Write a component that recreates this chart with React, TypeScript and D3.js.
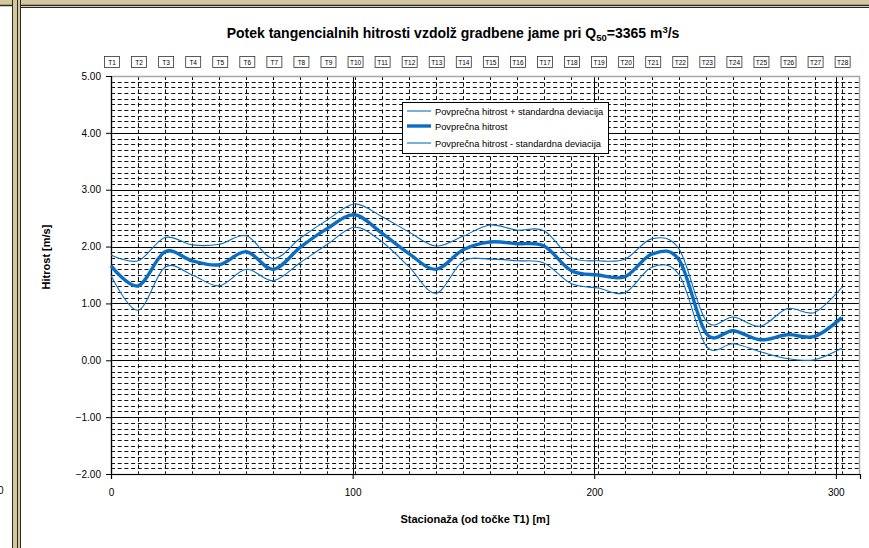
import React, { useEffect, useRef } from "react";
import * as d3 from "d3";

// station labels and their position along the pit [m]
const stations = ["T1", "T2", "T3", "T4", "T5", "T6", "T7", "T8", "T9", "T10", "T11", "T12", "T13", "T14",
  "T15", "T16", "T17", "T18", "T19", "T20", "T21", "T22", "T23", "T24", "T25", "T26", "T27", "T28"];
const stationPos = [0, 11.2, 22.4, 33.6, 44.8, 56, 67.2, 78.4, 89.6, 100.8, 112, 123.2, 134.4, 145.6,
  156.8, 168, 179.2, 190.4, 201.6, 212.8, 224, 235.2, 246.4, 257.6, 268.8, 280, 291.2, 302.4];

// velocities [m/s]
const meanSpeed = [1.66, 1.31, 1.91, 1.75, 1.68, 1.91, 1.6, 1.99, 2.32, 2.56, 2.24, 1.88, 1.6, 1.94,
  2.08, 2.05, 2.01, 1.58, 1.5, 1.47, 1.87, 1.76, 0.47, 0.52, 0.36, 0.45, 0.42, 0.75];
const upperSpeed = [1.85, 1.75, 2.16, 2.03, 2.04, 2.19, 1.79, 2.15, 2.47, 2.75, 2.53, 2.26, 2.01, 2.18,
  2.38, 2.29, 2.28, 1.81, 1.75, 1.78, 2.14, 1.95, 0.69, 0.76, 0.6, 0.91, 0.84, 1.28];
const lowerSpeed = [1.49, 0.88, 1.64, 1.5, 1.31, 1.6, 1.4, 1.72, 2.04, 2.34, 2.09, 1.65, 1.18, 1.74,
  1.78, 1.75, 1.71, 1.35, 1.27, 1.19, 1.64, 1.5, 0.25, 0.29, 0.15, 0.03, 0.01, 0.21];

const xTicks = [0, 100, 200, 300];
const yTicks = [5, 4, 3, 2, 1, 0, -1, -2];

const legendLabels = [
  "Povprečna hitrost + standardna deviacija",
  "Povprečna hitrost",
  "Povprečna hitrost - standardna deviacija",
];

const FONT = "'Liberation Sans', Arial, sans-serif";
const BLUE = "#0a6fc4";

export default function App() {
  const ref = useRef<SVGSVGElement>(null);

  useEffect(() => {
    const svg = d3.select(ref.current);
    svg.selectAll("*").remove();

    const W = 869, H = 548;
    const left = 111, right = 860, top = 76, bottom = 474;

    // outer decorative frame
    svg.append("rect").attr("width", W).attr("height", H).attr("fill", "#fff");
    svg.append("rect").attr("x", 0).attr("y", 0).attr("width", W).attr("height", 5).attr("fill", "#d4c7a0");
    svg.append("line").attr("x1", 0).attr("x2", W).attr("y1", 5.5).attr("y2", 5.5)
      .attr("stroke", "#2a2a1e").attr("stroke-width", 1.5);
    svg.append("rect").attr("x", 12).attr("y", 0).attr("width", 9).attr("height", H).attr("fill", "#d4c7a0");
    [12.5, 17.5, 20.5].forEach((x) => {
      svg.append("line").attr("x1", x).attr("x2", x).attr("y1", 0).attr("y2", H)
        .attr("stroke", "#2a2a1e").attr("stroke-width", 1);
    });
    svg.append("line").attr("x1", 20).attr("x2", W).attr("y1", 7.5).attr("y2", 7.5)
      .attr("stroke", "#2a2a1e").attr("stroke-width", 1);
    svg.append("text").attr("x", -2).attr("y", 494).attr("font-family", FONT).attr("font-size", 10)
      .text("0");

    const x = d3.scaleLinear().domain([0, 310]).range([left, right]);
    const y = d3.scaleLinear().domain([-2, 5]).range([bottom, top]);

    const g = svg.append("g");

    // minor horizontal grid every 0.1
    const minor = d3.range(-19, 50).map((i) => i / 10).filter((v) => Math.abs(v - Math.round(v)) > 1e-6);
    g.selectAll(".hminor").data(minor).join("line")
      .attr("x1", left).attr("x2", right)
      .attr("y1", (d) => Math.round(y(d)) + 0.5).attr("y2", (d) => Math.round(y(d)) + 0.5)
      .attr("stroke", "#111").attr("stroke-width", 1).attr("stroke-dasharray", "4,2.7");

    // station grid (dashed vertical)
    g.selectAll(".vminor").data(stationPos).join("line")
      .attr("x1", (d) => Math.round(x(d)) + 0.5).attr("x2", (d) => Math.round(x(d)) + 0.5)
      .attr("y1", top).attr("y2", bottom)
      .attr("stroke", "#111").attr("stroke-width", 1).attr("stroke-dasharray", "4,2.7");

    // major grid
    g.selectAll(".hmajor").data(yTicks).join("line")
      .attr("x1", left).attr("x2", right)
      .attr("y1", (d) => Math.round(y(d)) + 0.5).attr("y2", (d) => Math.round(y(d)) + 0.5)
      .attr("stroke", "#000").attr("stroke-width", 1);
    g.selectAll(".vmajor").data(xTicks).join("line")
      .attr("x1", (d) => Math.round(x(d)) + 0.5).attr("x2", (d) => Math.round(x(d)) + 0.5)
      .attr("y1", top).attr("y2", bottom)
      .attr("stroke", "#000").attr("stroke-width", 1);

    // plot border
    g.append("rect").attr("x", left + 0.5).attr("y", top + 0.5)
      .attr("width", right - left - 1).attr("height", bottom - top)
      .attr("fill", "none").attr("stroke", "#a8a8a8").attr("stroke-width", 1.5);

    // axes
    const xAxis = g.append("g").attr("transform", `translate(0,${bottom})`)
      .call(d3.axisBottom(x).tickValues(xTicks).tickSize(5).tickPadding(10).tickFormat(d3.format("d")));
    const yAxis = g.append("g").attr("transform", `translate(${left},0)`)
      .call(d3.axisLeft(y).tickValues(yTicks).tickSize(5).tickPadding(5).tickFormat(d3.format(".2f")));
    [xAxis, yAxis].forEach((a) => {
      a.select(".domain").attr("stroke", "#000").attr("stroke-width", 1.2);
      a.selectAll("line").attr("stroke", "#000");
      a.selectAll("text").attr("font-family", FONT).attr("font-size", 10).attr("fill", "#000");
    });

    // series
    const line = d3.line<number>()
      .x((_, i) => x(stationPos[i]))
      .y((d) => y(d))
      .curve(d3.curveCardinal.tension(0));

    g.append("path").datum(upperSpeed).attr("d", line).attr("fill", "none")
      .attr("stroke", BLUE).attr("stroke-width", 1.1);
    g.append("path").datum(lowerSpeed).attr("d", line).attr("fill", "none")
      .attr("stroke", BLUE).attr("stroke-width", 1.1);
    g.append("path").datum(meanSpeed).attr("d", line).attr("fill", "none")
      .attr("stroke", BLUE).attr("stroke-width", 3.4);

    // station labels
    const lab = g.selectAll(".station").data(stations).join("g")
      .attr("transform", (_, i) => `translate(${x(stationPos[i]) + 1},62)`);
    lab.append("rect").attr("x", -7.5).attr("y", -5.5).attr("width", 15).attr("height", 11)
      .attr("fill", "#fff").attr("stroke", "#333").attr("stroke-width", 0.8);
    lab.append("text").attr("text-anchor", "middle").attr("y", 2.5)
      .attr("font-family", FONT).attr("font-size", 6.5).text((d) => d);

    // legend
    const lg = g.append("g").attr("transform", "translate(402,102)");
    lg.append("rect").attr("x", 0.5).attr("y", 0.5).attr("width", 206).attr("height", 51)
      .attr("fill", "#fff").attr("stroke", "#000").attr("stroke-width", 1);
    const rows = lg.selectAll(".row").data(legendLabels).join("g")
      .attr("transform", (_, i) => `translate(0,${[9, 24, 41][i]})`);
    rows.append("line").attr("x1", 5).attr("x2", 29).attr("y1", 0).attr("y2", 0)
      .attr("stroke", BLUE).attr("stroke-width", (_, i) => (i === 1 ? 3.4 : 1.1));
    rows.append("text").attr("x", 33).attr("y", 3.5).attr("font-family", FONT)
      .attr("font-size", 9.3).text((d) => d);

    // titles
    const title = svg.append("text").attr("x", 453).attr("y", 38).attr("text-anchor", "middle")
      .attr("font-family", FONT).attr("font-size", 14).attr("font-weight", "bold");
    title.append("tspan").text("Potek tangencialnih hitrosti vzdolž gradbene jame pri Q");
    title.append("tspan").attr("font-size", 9.5).attr("dy", 3).text("50");
    title.append("tspan").attr("dy", -3).text("=3365 m");
    title.append("tspan").attr("font-size", 9.5).attr("dy", -5).text("3");
    title.append("tspan").attr("dy", 5).text("/s");

    svg.append("text").attr("x", 475).attr("y", 523).attr("text-anchor", "middle")
      .attr("font-family", FONT).attr("font-size", 11).attr("font-weight", "bold")
      .text("Stacionaža (od točke T1) [m]");

    svg.append("text").attr("transform", "translate(50,257) rotate(-90)").attr("text-anchor", "middle")
      .attr("font-family", FONT).attr("font-size", 11).attr("font-weight", "bold")
      .text("Hitrost [m/s]");
  }, []);

  return (
    <svg ref={ref} width={869} height={548}
      style={{ position: "absolute", left: 0, top: 0, display: "block" }} />
  );
}
